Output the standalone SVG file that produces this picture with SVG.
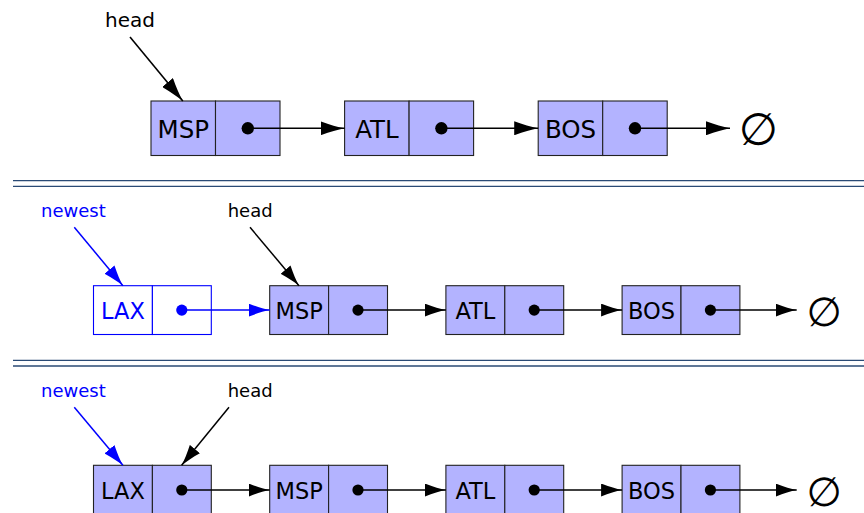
<svg xmlns="http://www.w3.org/2000/svg" width="864" height="513" viewBox="0 0 864 513">
<style>
  text { font-family: "DejaVu Sans", "Liberation Sans", sans-serif; }
  .cell { fill: #b3b3ff; stroke: #222; stroke-width: 1.1; }
  .bcell { fill: #ffffff; stroke: #0000ff; stroke-width: 1.1; }
  .lbl { font-size: 20px; fill: #000; }
  .lbl2 { font-size: 18px; fill: #000; }
  .nt1 { font-size: 24.5px; text-anchor: middle; fill: #000; }
  .nt2 { font-size: 22.5px; text-anchor: middle; fill: #000; }
  text.blue { fill: #0000ff; }
  .ln1 { stroke: #000; stroke-width: 1.6; fill: none; marker-end: url(#ah1); }
  .ln2 { stroke: #000; stroke-width: 1.5; fill: none; marker-end: url(#ah2); }
  .ln2b { stroke: #0000ff; stroke-width: 1.5; fill: none; marker-end: url(#ah2b); }
  .sep { stroke: #2a4a75; stroke-width: 1.3; }
  .null1 { font-size: 45px; text-anchor: middle; fill: #000; }
  .null2 { font-size: 40.5px; text-anchor: middle; fill: #000; }
</style>
<defs>
  <marker id="ah1" markerUnits="userSpaceOnUse" markerWidth="24" markerHeight="14" viewBox="0 0 24 14" refX="24" refY="7" orient="auto">
    <path d="M0,0 C9,3.5 17,5.5 24,7 C17,8.5 9,10.5 0,14 Z" fill="#000"/>
  </marker>
  <marker id="ah2" markerUnits="userSpaceOnUse" markerWidth="21" markerHeight="13" viewBox="0 0 21 13" refX="21" refY="6.5" orient="auto">
    <path d="M0,0 C8,3.2 15,5.2 21,6.5 C15,7.8 8,9.8 0,13 Z" fill="#000"/>
  </marker>
  <marker id="ah2b" markerUnits="userSpaceOnUse" markerWidth="21" markerHeight="13" viewBox="0 0 21 13" refX="21" refY="6.5" orient="auto">
    <path d="M0,0 C8,3.2 15,5.2 21,6.5 C15,7.8 8,9.8 0,13 Z" fill="#0000ff"/>
  </marker>
</defs>

<!-- separators -->
<g id="separators">
  <line class="sep" x1="13" y1="180.7" x2="864" y2="180.7"/>
  <line class="sep" x1="13" y1="186.3" x2="864" y2="186.3"/>
  <line class="sep" x1="13" y1="360.3" x2="864" y2="360.3"/>
  <line class="sep" x1="13" y1="366" x2="864" y2="366"/>
</g>

<!-- ===== Row 1 ===== -->
<g id="r1-head-label"><text class="lbl" x="105" y="27">head</text></g>
<g id="r1-msp">
  <rect class="cell" x="151" y="101" width="64.5" height="54.5"/>
  <rect class="cell" x="215.5" y="101" width="64.5" height="54.5"/>
  <text class="nt1" x="183.3" y="137.5">MSP</text>
  <circle cx="247.8" cy="128.3" r="6.2" fill="#000"/>
</g>
<g id="r1-atl">
  <rect class="cell" x="344.6" y="101" width="64.5" height="54.5"/>
  <rect class="cell" x="409.1" y="101" width="64.5" height="54.5"/>
  <text class="nt1" x="376.9" y="137.5">ATL</text>
  <circle cx="441.4" cy="128.3" r="6.2" fill="#000"/>
</g>
<g id="r1-bos">
  <rect class="cell" x="538.2" y="101" width="64.5" height="54.5"/>
  <rect class="cell" x="602.7" y="101" width="64.5" height="54.5"/>
  <text class="nt1" x="570.5" y="137.5">BOS</text>
  <circle cx="635" cy="128.3" r="6.2" fill="#000"/>
</g>
<g id="r1-null"><text class="null1" x="758.3" y="145">∅</text></g>

<!-- ===== Row 2 ===== -->
<g id="r2-newest-label"><text class="lbl2 blue" x="41" y="217.3">newest</text></g>
<g id="r2-head-label"><text class="lbl2" x="227.7" y="217.3">head</text></g>
<g id="r2-lax">
  <rect class="bcell" x="93.5" y="285.7" width="58.9" height="48.8"/>
  <rect class="bcell" x="152.4" y="285.7" width="58.9" height="48.8"/>
  <text class="nt2 blue" x="123" y="319.3">LAX</text>
  <circle cx="181.8" cy="310.1" r="5.6" fill="#0000ff"/>
</g>
<g id="r2-msp">
  <rect class="cell" x="269.7" y="285.7" width="58.9" height="48.8"/>
  <rect class="cell" x="328.6" y="285.7" width="58.9" height="48.8"/>
  <text class="nt2" x="299.2" y="319.3">MSP</text>
  <circle cx="358" cy="310.1" r="5.6" fill="#000"/>
</g>
<g id="r2-atl">
  <rect class="cell" x="445.9" y="285.7" width="58.9" height="48.8"/>
  <rect class="cell" x="504.8" y="285.7" width="58.9" height="48.8"/>
  <text class="nt2" x="475.4" y="319.3">ATL</text>
  <circle cx="534.2" cy="310.1" r="5.6" fill="#000"/>
</g>
<g id="r2-bos">
  <rect class="cell" x="622.1" y="285.7" width="58.9" height="48.8"/>
  <rect class="cell" x="681" y="285.7" width="58.9" height="48.8"/>
  <text class="nt2" x="651.6" y="319.3">BOS</text>
  <circle cx="710.4" cy="310.1" r="5.6" fill="#000"/>
</g>
<g id="r2-null"><text class="null2" x="824.2" y="326">∅</text></g>

<!-- ===== Row 3 ===== -->
<g id="r3-newest-label"><text class="lbl2 blue" x="41" y="396.7">newest</text></g>
<g id="r3-head-label"><text class="lbl2" x="227.7" y="396.7">head</text></g>
<g id="r3-lax">
  <rect class="cell" x="93.5" y="465.3" width="58.9" height="48.8"/>
  <rect class="cell" x="152.4" y="465.3" width="58.9" height="48.8"/>
  <text class="nt2" x="123" y="498.9">LAX</text>
  <circle cx="181.8" cy="490" r="5.6" fill="#000"/>
</g>
<g id="r3-msp">
  <rect class="cell" x="269.7" y="465.3" width="58.9" height="48.8"/>
  <rect class="cell" x="328.6" y="465.3" width="58.9" height="48.8"/>
  <text class="nt2" x="299.2" y="498.9">MSP</text>
  <circle cx="358" cy="490" r="5.6" fill="#000"/>
</g>
<g id="r3-atl">
  <rect class="cell" x="445.9" y="465.3" width="58.9" height="48.8"/>
  <rect class="cell" x="504.8" y="465.3" width="58.9" height="48.8"/>
  <text class="nt2" x="475.4" y="498.9">ATL</text>
  <circle cx="534.2" cy="490" r="5.6" fill="#000"/>
</g>
<g id="r3-bos">
  <rect class="cell" x="622.1" y="465.3" width="58.9" height="48.8"/>
  <rect class="cell" x="681" y="465.3" width="58.9" height="48.8"/>
  <text class="nt2" x="651.6" y="498.9">BOS</text>
  <circle cx="710.4" cy="490" r="5.6" fill="#000"/>
</g>
<g id="r3-null"><text class="null2" x="824.2" y="506">∅</text></g>

<!-- connectors -->
<g id="connectors">
  <!-- row 1 -->
  <line class="ln1" x1="130" y1="37" x2="182.8" y2="101"/>
  <line class="ln1" x1="247.8" y1="128.3" x2="344.6" y2="128.3"/>
  <line class="ln1" x1="441.4" y1="128.3" x2="538.2" y2="128.3"/>
  <line class="ln1" x1="635" y1="128.3" x2="730" y2="128.3"/>
  <!-- row 2 -->
  <line class="ln2b" x1="74.3" y1="227.3" x2="122.9" y2="285.7"/>
  <line class="ln2" x1="250" y1="227.3" x2="299" y2="285.7"/>
  <line class="ln2b" x1="181.8" y1="310.1" x2="269.7" y2="310.1"/>
  <line class="ln2" x1="358" y1="310.1" x2="445.9" y2="310.1"/>
  <line class="ln2" x1="534.2" y1="310.1" x2="622.1" y2="310.1"/>
  <line class="ln2" x1="710.4" y1="310.1" x2="796.7" y2="310.1"/>
  <!-- row 3 -->
  <line class="ln2b" x1="74.3" y1="407.3" x2="122.9" y2="465.3"/>
  <line class="ln2" x1="229" y1="407.3" x2="181.6" y2="465.3"/>
  <line class="ln2" x1="181.8" y1="490" x2="269.7" y2="490"/>
  <line class="ln2" x1="358" y1="490" x2="445.9" y2="490"/>
  <line class="ln2" x1="534.2" y1="490" x2="622.1" y2="490"/>
  <line class="ln2" x1="710.4" y1="490" x2="796.7" y2="490"/>
</g>
</svg>
